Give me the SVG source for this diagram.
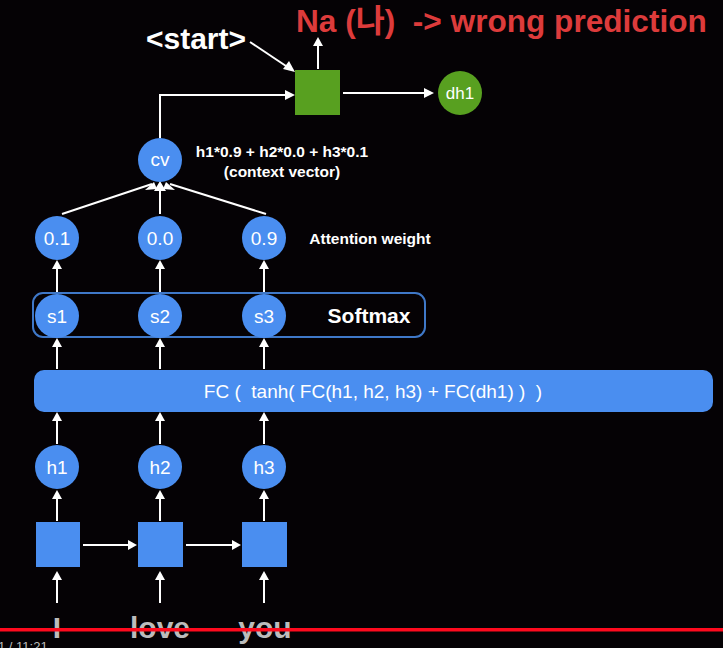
<svg xmlns="http://www.w3.org/2000/svg" width="723" height="648" viewBox="0 0 723 648">
<defs>
<style>
.c{fill:#4a8ef0}
.t{font-family:"Liberation Sans",Arial,sans-serif;fill:#ffffff;text-anchor:middle}
.n{font-size:19px}
.b{font-weight:bold}
</style>
</defs>
<rect width="723" height="648" fill="#050205"/>
<g id="connectors">
<g stroke="#fff" stroke-width="2" fill="none">
<path d="M250,42 L289,68"/>
<path d="M318,69 L318,44"/>
<path d="M160,138 L160,95 L287,95"/>
<path d="M343,93 L426,93"/>
<path d="M62,214 L152,184"/>
<path d="M160,214 L160,188"/>
<path d="M266,214 L170,184"/>
<path d="M57,293 L57,266"/><path d="M160,293 L160,266"/><path d="M264,293 L264,266"/>
<path d="M57,369 L57,344"/><path d="M160,369 L160,344"/><path d="M264,369 L264,344"/>
<path d="M57,444 L57,418"/><path d="M160,444 L160,418"/><path d="M264,444 L264,418"/>
<path d="M57,521 L57,496"/><path d="M160,521 L160,496"/><path d="M264,521 L264,496"/>
<path d="M57,603 L57,577"/><path d="M160,603 L160,577"/><path d="M264,603 L264,577"/>
<path d="M83,545 L130,545"/><path d="M186,545 L234,545"/>
</g>
<g fill="#fff">
<path d="M295,72 L283,69 L289,61 Z"/>
<path d="M318,37 L313,46 L323,46 Z"/>
<path d="M295,95 L285,90 L285,100 Z"/>
<path d="M434,93 L424,88 L424,98 Z"/>
<path d="M160,181 L154,191 L166,191 Z"/>
<path d="M154,182 L145,190 L157,189 Z"/>
<path d="M166,182 L163,189 L175,190 Z"/>
<path d="M57,260 L52,269 L62,269 Z"/><path d="M160,260 L155,269 L165,269 Z"/><path d="M264,260 L259,269 L269,269 Z"/>
<path d="M57,338 L52,347 L62,347 Z"/><path d="M160,338 L155,347 L165,347 Z"/><path d="M264,338 L259,347 L269,347 Z"/>
<path d="M57,412 L52,421 L62,421 Z"/><path d="M160,412 L155,421 L165,421 Z"/><path d="M264,412 L259,421 L269,421 Z"/>
<path d="M57,490 L52,499 L62,499 Z"/><path d="M160,490 L155,499 L165,499 Z"/><path d="M264,490 L259,499 L269,499 Z"/>
<path d="M57,571 L52,580 L62,580 Z"/><path d="M160,571 L155,580 L165,580 Z"/><path d="M264,571 L259,580 L269,580 Z"/>
<path d="M137,545 L128,540 L128,550 Z"/><path d="M241,545 L232,540 L232,550 Z"/>
</g>
</g>
<g id="title">
<text x="296" y="32" font-family="Liberation Sans,'Noto Sans CJK KR',sans-serif" font-size="31.6" font-weight="bold" fill="#dd3b3b" xml:space="preserve">Na (나)  -&gt; wrong prediction</text>
</g>
<g id="start"><text class="t b" x="196" y="49" font-size="30">&lt;start&gt;</text></g>
<g id="decoder"><rect x="295" y="70" width="45" height="45" fill="#58a020"/></g>
<g id="dh1"><circle cx="460" cy="93" r="22" fill="#58a020"/><text class="t" x="460" y="99" font-size="17">dh1</text></g>
<g id="cv"><circle class="c" cx="160" cy="160" r="22"/><text class="t n" x="160" y="166">cv</text></g>
<g id="cv-label">
<text class="t b" x="282" y="157" font-size="15.5">h1*0.9 + h2*0.0 + h3*0.1</text>
<text class="t b" x="282" y="177" font-size="15.5">(context vector)</text>
</g>
<g id="w1"><circle class="c" cx="57" cy="238" r="22"/><text class="t n" x="57" y="245">0.1</text></g>
<g id="w2"><circle class="c" cx="160" cy="238" r="22"/><text class="t n" x="160" y="245">0.0</text></g>
<g id="w3"><circle class="c" cx="264" cy="238" r="22"/><text class="t n" x="264" y="245">0.9</text></g>
<g id="attn-label"><text class="t b" x="370" y="244" font-size="15.5">Attention weight</text></g>
<g id="softmax">
<rect x="33" y="293" width="392" height="44" rx="10" fill="none" stroke="#3f78c8" stroke-width="2"/>
<text class="t b" x="369" y="323" font-size="21">Softmax</text>
</g>
<g id="s1"><circle class="c" cx="57" cy="316" r="22"/><text class="t n" x="57" y="323">s1</text></g>
<g id="s2"><circle class="c" cx="160" cy="316" r="22"/><text class="t n" x="160" y="323">s2</text></g>
<g id="s3"><circle class="c" cx="264" cy="316" r="22"/><text class="t n" x="264" y="323">s3</text></g>
<g id="fc"><rect x="34" y="370" width="679" height="42" rx="10" class="c"/><text class="t" x="373" y="398" font-size="19" xml:space="preserve">FC (  tanh( FC(h1, h2, h3) + FC(dh1) )  )</text></g>
<g id="h1"><circle class="c" cx="57" cy="467" r="22"/><text class="t n" x="57" y="474">h1</text></g>
<g id="h2"><circle class="c" cx="160" cy="467" r="22"/><text class="t n" x="160" y="474">h2</text></g>
<g id="h3"><circle class="c" cx="264" cy="467" r="22"/><text class="t n" x="264" y="474">h3</text></g>
<g id="r1"><rect x="36" y="522" width="44" height="45" class="c"/></g>
<g id="r2"><rect x="138" y="522" width="45" height="45" class="c"/></g>
<g id="r3"><rect x="242" y="522" width="45" height="45" class="c"/></g>
<g id="words" font-family="Liberation Sans,Arial,sans-serif" font-weight="bold" font-size="30" fill="#bcbcbc" text-anchor="middle">
<text x="57" y="638">I</text>
<text x="160" y="638">love</text>
<text x="265" y="638">you</text>
</g>
<rect x="0" y="628" width="723" height="3.5" fill="#ff0a1e"/>
<text x="-2" y="651" font-family="Liberation Sans,Arial,sans-serif" font-size="13" fill="#bbbbbb">1 / 11:21</text>
</svg>
